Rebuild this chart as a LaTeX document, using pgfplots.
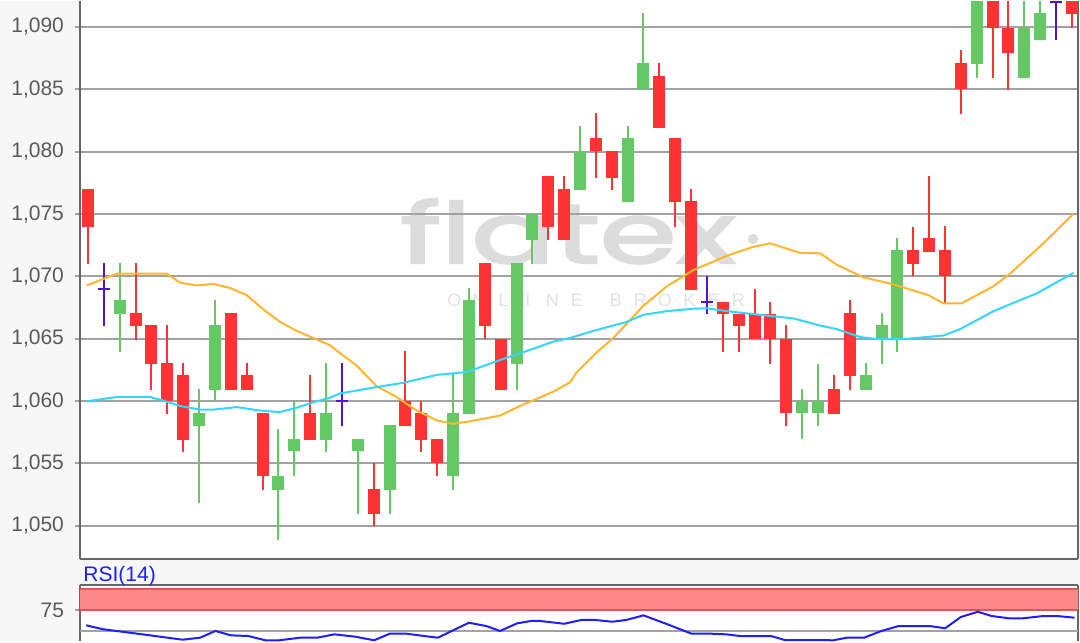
\documentclass[border=0pt]{standalone}
\usepackage{pgfplots}
\pgfplotsset{compat=1.18}
\usepackage{pgfplotstable}
\usepackage{fontspec}
\setmainfont{Liberation Sans}
\newfontfamily\wmfont[FakeBold=2.5]{Poppins}
\definecolor{bgcol}{HTML}{F7F7F7}
\definecolor{gridcol}{HTML}{A2A2A2}
\definecolor{bordercol}{HTML}{666666}
\definecolor{labelcol}{HTML}{5A5A5A}
\definecolor{cred}{HTML}{FF3333}
\definecolor{cgreen}{HTML}{64C864}
\definecolor{cpurp}{HTML}{5014D2}
\definecolor{corange}{HTML}{FFB62E}
\definecolor{ccyan}{HTML}{33D6FF}
\definecolor{rsiblue}{HTML}{1E1EFF}
\definecolor{bandfill}{HTML}{FF8888}
\definecolor{bandline}{HTML}{D75A5A}
\definecolor{wmcol}{HTML}{DCDCDC}
\definecolor{wmcol2}{HTML}{E2E2E2}

\pgfplotstableread{
i bt bb hi lo
0 1077.04 1073.92 1077.04 1071.00
3 1067.06 1066.00 1071.08 1064.90
4 1066.12 1063.00 1066.12 1060.90
5 1063.05 1059.98 1066.12 1058.95
6 1062.10 1056.89 1063.05 1055.88
9 1067.06 1060.90 1067.06 1060.90
10 1062.10 1060.90 1063.05 1060.90
11 1059.04 1054.02 1059.04 1052.87
14 1059.04 1056.89 1062.10 1056.89
18 1052.96 1050.92 1055.00 1050.00
20 1059.98 1057.98 1064.05 1057.98
21 1059.04 1056.89 1059.98 1055.88
22 1056.94 1055.00 1056.94 1054.02
25 1071.08 1066.00 1071.08 1064.97
26 1064.97 1060.90 1064.97 1060.90
29 1078.02 1073.92 1078.02 1072.94
30 1077.04 1072.94 1078.02 1072.94
32 1081.06 1080.05 1083.12 1077.90
33 1080.05 1077.90 1080.05 1076.96
36 1086.04 1081.92 1087.13 1081.92
37 1081.06 1075.95 1081.06 1073.92
38 1076.04 1068.93 1077.04 1068.93
40 1067.98 1067.00 1067.98 1063.91
41 1067.00 1066.00 1067.00 1063.91
42 1067.00 1064.97 1068.98 1064.97
43 1067.00 1064.97 1067.98 1063.00
44 1064.97 1059.04 1066.12 1057.98
47 1060.99 1058.95 1062.10 1058.95
48 1067.06 1061.99 1068.07 1060.90
52 1072.08 1071.00 1074.00 1070.07
53 1073.08 1071.94 1078.02 1071.94
54 1072.08 1070.07 1074.00 1067.84
55 1087.13 1085.04 1088.14 1083.03
57 1094.00 1089.95 1094.00 1085.90
58 1089.95 1087.94 1094.00 1084.92
62 1094.00 1091.00 1094.00 1089.95
}\redT

\pgfplotstableread{
i bt bb hi lo
2 1068.07 1067.00 1071.08 1063.91
7 1059.04 1057.98 1060.99 1051.87
8 1066.12 1060.90 1068.07 1059.98
12 1054.02 1052.87 1057.80 1048.86
13 1056.94 1055.97 1059.98 1054.02
15 1059.04 1056.89 1063.05 1055.88
17 1056.94 1055.97 1056.94 1050.92
19 1058.09 1052.87 1058.09 1050.92
23 1059.04 1054.02 1062.19 1052.87
24 1068.07 1058.95 1069.07 1058.95
27 1071.08 1063.00 1071.08 1060.90
28 1075.03 1072.94 1075.03 1071.00
31 1080.05 1076.96 1082.03 1076.96
34 1081.06 1075.95 1082.03 1075.95
35 1087.13 1085.04 1091.15 1085.04
45 1059.98 1059.04 1060.99 1056.94
46 1059.98 1059.04 1063.00 1057.98
49 1062.10 1060.90 1063.05 1060.90
50 1066.12 1064.97 1067.06 1063.00
51 1072.08 1064.97 1073.08 1063.91
56 1094.00 1087.00 1094.00 1085.90
59 1089.95 1085.90 1094.00 1085.90
60 1091.10 1088.93 1094.00 1088.93
}\greenT

\pgfplotstableread{
i c hi lo
1 1068.98 1071.08 1066.00
16 1059.98 1063.05 1057.98
39 1067.98 1070.07 1067.00
61 1092.00 1094.00 1088.93
}\purpT

\newcommand\wmletter[1]{\makebox[12.25pt]{#1}}

\begin{document}
\begin{tikzpicture}
\fill[bgcol] (0pt,0pt) rectangle (540pt,-320pt);
\fill[white] (40pt,-279pt) rectangle (539pt,0pt);
\fill[white] (40pt,-292.15pt) rectangle (539pt,-320pt);
% watermark
\node[anchor=base west, inner sep=0pt, text=wmcol] at (200pt,-131pt) {\resizebox{167.5pt}{32pt}{\wmfont flatex}};
\fill[wmcol] (376.5pt,-119pt) circle (2.6pt);
\node[anchor=base west, inner sep=0pt, text=wmcol2, font=\fontsize{9pt}{10pt}\selectfont] at (220.9pt,-152.5pt)
  {\wmletter{O}\wmletter{N}\wmletter{L}\wmletter{I}\wmletter{N}\wmletter{E}\hspace{7.25pt}\wmletter{B}\wmletter{R}\wmletter{O}\wmletter{K}\wmletter{E}\wmletter{R}};

\begin{axis}[
  at={(40pt,-279pt)}, anchor=south west,
  scale only axis, width=499pt, height=279pt,
  xmin=-0.504, xmax=62.38, ymin=1047.34, ymax=1092.08,
  axis x line*=bottom,
  axis line style={draw=bordercol, line width=1pt},
  xtick=\empty, ytick={1050,1055,...,1090}, ytick pos=left,
  tick align=outside, major tick length=2.5pt,
  tick style={draw=gridcol, line width=1pt},
  ymajorgrids, major grid style={draw=gridcol, line width=1pt},
  /pgf/number format/1000 sep={,}, /pgf/number format/fixed,
  /pgf/number format/assume math mode=true,
  yticklabel style={font=\fontsize{10.5pt}{12pt}\selectfont, text=labelcol, xshift=-2pt},
]
\addplot[draw=none, mark=none, error bars/.cd, y dir=plus, y explicit, error mark=none,
  error bar style={line width=1pt, draw=cred}]
  table[x=i, y=lo, y error expr=\thisrow{hi}-\thisrow{lo}] {\redT};
\addplot[draw=none, mark=none, error bars/.cd, y dir=plus, y explicit, error mark=none,
  error bar style={line width=1pt, draw=cgreen}]
  table[x=i, y=lo, y error expr=\thisrow{hi}-\thisrow{lo}] {\greenT};
\addplot[draw=none, mark=none, error bars/.cd, y dir=plus, y explicit, error mark=none,
  error bar style={line width=1pt, draw=cpurp}]
  table[x=i, y=lo, y error expr=\thisrow{hi}-\thisrow{lo}] {\purpT};
\addplot[draw=none, mark=none, error bars/.cd, y dir=plus, y explicit, error mark=none,
  error bar style={line width=6pt, draw=cred}]
  table[x=i, y=bb, y error expr=\thisrow{bt}-\thisrow{bb}] {\redT};
\addplot[draw=none, mark=none, error bars/.cd, y dir=plus, y explicit, error mark=none,
  error bar style={line width=6pt, draw=cgreen}]
  table[x=i, y=bb, y error expr=\thisrow{bt}-\thisrow{bb}] {\greenT};
\addplot[only marks, mark=-, mark size=3pt, mark options={line width=1pt, draw=cpurp}]
  table[x=i, y=c] {\purpT};
\addplot[corange, line width=1pt] coordinates {
(-0.08,1069.27) (1.81,1070.22) (4.96,1070.22) (5.80,1069.5) (6.85,1069.27) (7.90,1069.4)
(8.95,1069.07) (10.0,1068.5) (11.05,1067.35) (12.10,1066.35) (13.15,1065.63) (14.20,1065.06)
(15.25,1064.48) (15.67,1064.05) (16.93,1062.85) (18.19,1061.19) (19.45,1060.33) (20.71,1059.24)
(21.97,1058.46) (23.02,1058.18) (24.07,1058.38) (25.96,1058.84) (27.22,1059.61) (28.27,1060.18)
(29.32,1060.76) (30.37,1061.5) (30.79,1062.3) (32.05,1063.91) (33.10,1065.06) (34.99,1067.64)
(36.47,1069.21) (38.14,1070.5) (40.25,1071.65) (41.92,1072.37) (42.98,1072.65) (44.87,1071.88)
(46.13,1071.85) (47.18,1070.93) (48.85,1069.93) (50.74,1069.36) (52.95,1068.5) (53.90,1067.84)
(55.05,1067.84) (57.05,1069.21) (58.10,1070.22) (60.20,1072.65) (62.09,1075.01)};
\addplot[ccyan, line width=1pt] coordinates {
(-0.08,1059.98) (1.81,1060.33) (3.91,1060.33) (4.74,1060.04) (5.80,1059.61) (7.06,1059.32)
(7.90,1059.32) (9.37,1059.52) (10.84,1059.24) (12.10,1059.12) (13.15,1059.47) (14.20,1059.9)
(15.25,1060.28) (15.88,1060.61) (17.77,1061.04) (19.87,1061.47) (21.97,1062.1) (23.86,1062.33)
(25.12,1062.91) (26.38,1063.48) (28.06,1064.2) (29.32,1064.77) (30.37,1065.06) (31.84,1065.63)
(33.94,1066.35) (34.99,1066.92) (36.47,1067.21) (38.14,1067.41) (38.98,1067.44) (40.25,1067.21)
(42.34,1066.92) (44.44,1066.63) (46.13,1066.06) (47.18,1065.77) (48.65,1065.14) (49.70,1064.97)
(51.37,1064.97) (53.90,1065.26) (54.95,1065.77) (57.05,1067.21) (59.78,1068.64) (62.09,1070.28)};
\end{axis}

\begin{axis}[
  at={(40pt,-292.15pt)}, anchor=north west,
  scale only axis, width=499pt, height=27.85pt,
  xmin=-0.504, xmax=62.38, ymin=38.45, ymax=104.8,
  axis x line*=top,
  axis line style={draw=bordercol, line width=1pt},
  xtick=\empty, ytick={75}, ytick pos=left,
  tick align=outside, major tick length=2.5pt,
  tick style={draw=gridcol, line width=1pt},
  /pgf/number format/assume math mode=true,
  yticklabel style={font=\fontsize{10.5pt}{12pt}\selectfont, text=labelcol, xshift=-2pt},
]
\addplot[draw=none, fill=bandfill] coordinates {(-0.6,75) (62.5,75) (62.5,100) (-0.6,100) (-0.6,75)};
\addplot[bandline, line width=1pt] coordinates {(-0.6,75) (62.5,75)};
\addplot[bandline, line width=1pt] coordinates {(-0.6,100) (62.5,100)};
\addplot[gridcol, line width=1pt] coordinates {(-0.6,50) (62.5,50)};
\addplot[rsiblue, line width=1pt] coordinates {
(-0.11,57.1) (0.97,52.4) (3.14,47.1) (5.97,40.0) (7.06,42.4) (8.03,50.4) (9.01,45.2)
(10.10,44.4) (11.18,39.3) (12.05,39.3) (13.36,42.4) (14.44,42.4) (15.53,46.4) (16.84,43.6)
(18.03,39.3) (19.01,47.1) (20.09,47.1) (21.18,44.4) (22.05,42.4) (22.92,50.4) (24.00,60.2)
(25.09,56.3) (25.96,50.4) (27.04,59.5) (27.91,62.3) (28.48,62.3) (30.00,59.0) (31.09,63.5)
(31.96,63.5) (33.04,61.4) (33.91,63.5) (35.0,69.0) (36.52,58.3) (38.04,47.1) (39.34,47.1)
(40.21,46.4) (41.08,44.4) (43.04,44.4) (43.91,39.6) (45.87,39.6) (46.95,39.3) (47.82,42.4)
(48.90,42.4) (49.99,50.4) (51.08,56.3) (53.04,56.3) (54.01,53.6) (54.99,67.0) (56.07,73.3)
(56.94,68.2) (58.03,65.5) (58.90,65.5) (60.20,68.2) (61.07,68.2) (62.16,66.2)};
\end{axis}

\node[anchor=west, inner sep=0pt, text=rsiblue, font=\fontsize{10.5pt}{12pt}\selectfont] at (41.5pt,-287.7pt) {RSI(14)};
\end{tikzpicture}
\end{document}
